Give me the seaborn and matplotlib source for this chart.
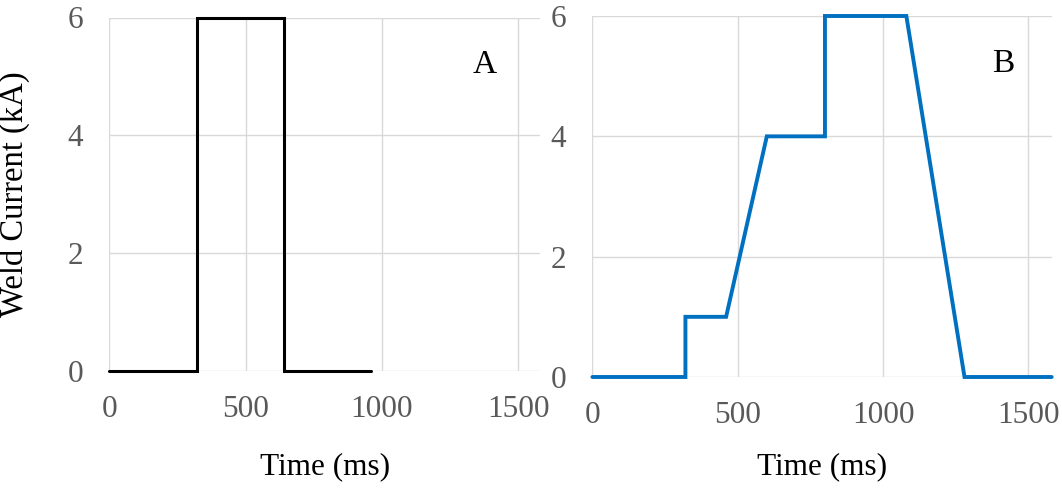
import pandas as pd
import matplotlib
matplotlib.use("Agg")
import matplotlib.pyplot as plt
import seaborn as sns

# Weld schedule A: simple square pulse
time_a = [0, 320, 320, 640, 640, 960]
current_a = [0, 0, 6, 6, 0, 0]

# Weld schedule B: stepped ramp up, hold, ramp down
time_b = [0, 320, 320, 460, 600, 800, 800, 1080, 1280, 1580]
current_b = [0, 0, 1, 1, 4, 4, 6, 6, 0, 0]

x_ticks = [0, 500, 1000, 1500]
y_ticks = [0, 2, 4, 6]
x_max = 1580

sns.set_style("white")
plt.rcParams['font.family'] = ['Liberation Serif', 'DejaVu Serif']

df_a = pd.DataFrame({'Time': time_a, 'Current': current_a})
df_b = pd.DataFrame({'Time': time_b, 'Current': current_b})

W, H = 1062, 496
fig = plt.figure(figsize=(W / 100, H / 100), dpi=100)

def axes_box(x0, x1, ytop, ybot):
    return [x0 / W, 1 - ybot / H, (x1 - x0) / W, (ybot - ytop) / H]

ax_a = fig.add_axes(axes_box(109.3, 540, 17.5, 371))
ax_b = fig.add_axes(axes_box(592.4, 1051.7, 16, 377))

panels = [
    (ax_a, df_a, 'black', 2.2, 'A', 1376, 17.5, 371),
    (ax_b, df_b, '#0070C0', 2.8, 'B', 1412, 16, 377),
]

for ax, df, color, lw, tag, tag_x, ytop, ybot in panels:
    sns.lineplot(data=df, x='Time', y='Current', ax=ax, sort=False,
                 estimator=None, color=color, linewidth=lw)
    for line in ax.lines:
        line.set_clip_on(False)
        line.set_zorder(5)
        line.set_solid_joinstyle('miter')
    ax.set_xlim(0, x_max)
    ax.set_ylim(0, 6)
    ax.set_xticks(x_ticks)
    ax.set_yticks(y_ticks)
    ax.grid(True, color='#d9d9d9', linewidth=1.0)
    ax.set_axisbelow(True)
    for s in ax.spines.values():
        s.set_visible(False)
    ax.tick_params(axis='both', length=0, labelsize=22.5, labelcolor='#595959')
    ax.tick_params(axis='x', pad=17)
    ax.tick_params(axis='y', pad=19)
    ax.set_xlabel('Time (ms)', fontsize=22.5, color='black')
    ax.xaxis.set_label_coords(0.5, (ybot - 452) / (ybot - ytop))
    ax.set_ylabel('')
    ax.text(tag_x, 5.2, tag, fontsize=24, color='black', ha='center', va='center')

ax_a.set_ylabel('Weld Current (kA)', fontsize=23.5, color='black', labelpad=27)

fig.savefig('out.png', dpi=100)
